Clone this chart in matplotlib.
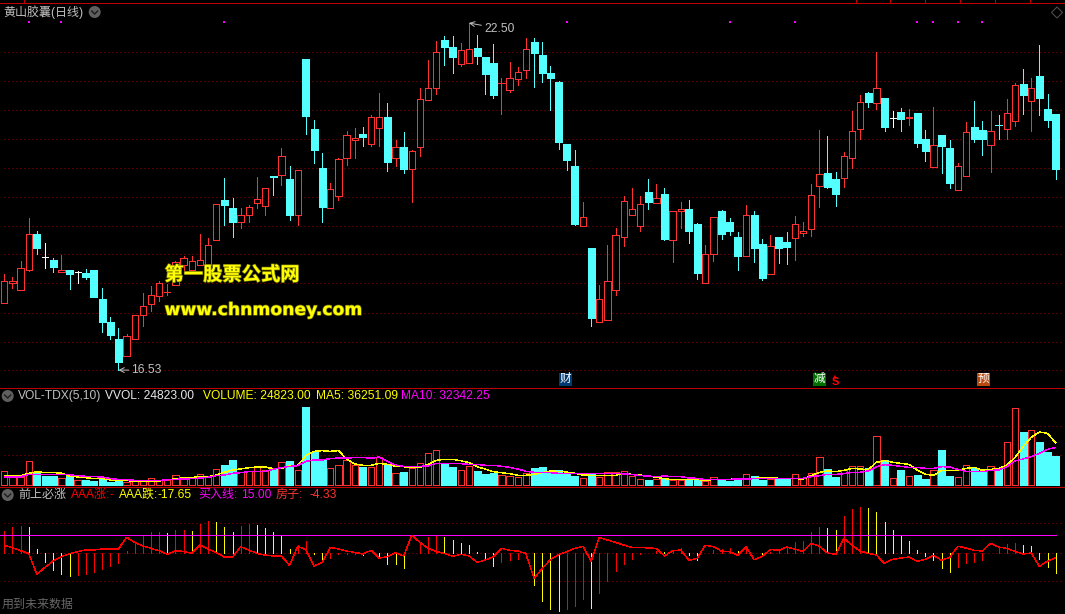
import matplotlib
matplotlib.use("Agg")
import matplotlib.pyplot as plt
import matplotlib.patheffects as pe
from matplotlib.patches import Circle, Rectangle, Polygon

W = 1065
H = 614

opens = [17.69, 18.02, 17.90, 18.26, 18.87, 18.47, 18.42, 18.21, 18.26, 18.21,
         18.20, 18.26, 17.75, 17.36, 17.06, 16.78, 17.07, 17.47, 17.67, 17.81,
         17.87, 17.99, 18.33, 18.26, 18.34, 18.33, 18.76, 19.46, 19.32, 19.08,
         19.19, 19.41, 19.36, 19.86, 19.89, 19.82, 19.19, 21.88, 20.68, 20.01,
         19.31, 19.53, 20.18, 20.48, 20.59, 20.42, 20.70, 20.88, 20.18, 20.37,
         19.99, 20.37, 21.18, 21.39, 22.21, 22.09, 21.80, 21.82, 22.07, 21.92,
         21.81, 21.46, 21.35, 21.54, 21.69, 22.17, 21.95, 21.64, 21.49, 20.42,
         20.04, 19.01, 18.63, 17.35, 17.40, 17.91, 18.82, 19.20, 19.01, 19.59,
         19.41, 19.56, 18.77, 19.26, 19.30, 19.04, 18.02, 18.52, 19.27, 19.08,
         18.82, 18.50, 19.20, 18.70, 18.19, 18.82, 18.73, 18.81, 18.89, 18.95,
         19.70, 19.92, 19.82, 19.84, 20.18, 20.68, 21.30, 21.13, 21.21, 20.87,
         20.97, 20.87, 20.95, 20.51, 20.03, 20.57, 20.35, 19.63, 19.86, 20.71,
         20.66, 20.41, 20.75, 20.68, 20.82, 21.45, 21.16, 21.59, 21.02, 20.93]
closes = [18.06, 18.07, 18.28, 18.87, 18.63, 18.47, 18.30, 18.26, 18.19, 18.21,
          18.13, 17.79, 17.36, 17.13, 16.67, 17.11, 17.47, 17.64, 17.82, 18.02,
          17.88, 18.39, 18.45, 18.40, 18.42, 18.69, 19.39, 19.37, 19.08, 19.19,
          19.33, 19.47, 19.66, 19.85, 20.21, 19.20, 19.97, 20.90, 20.32, 19.34,
          19.64, 20.16, 20.57, 20.53, 20.54, 20.88, 20.88, 20.11, 20.36, 19.99,
          20.29, 21.19, 21.38, 22.00, 22.09, 21.92, 22.03, 22.06, 21.93, 21.62,
          21.26, 21.47, 21.55, 21.65, 22.05, 21.98, 21.64, 21.55, 20.45, 20.14,
          19.04, 19.16, 17.43, 17.75, 18.06, 18.85, 19.43, 19.30, 19.39, 19.42,
          19.49, 18.78, 19.26, 19.30, 18.92, 18.20, 18.52, 19.16, 18.87, 18.92,
          18.49, 19.19, 18.63, 18.11, 18.66, 18.63, 18.65, 19.04, 18.93, 19.55,
          19.91, 19.68, 19.56, 20.21, 20.64, 21.14, 21.14, 21.38, 20.71, 20.87,
          20.85, 20.88, 20.44, 20.30, 20.41, 20.38, 19.75, 20.04, 20.62, 20.51,
          20.51, 20.64, 20.74, 20.95, 21.43, 21.26, 21.39, 21.21, 20.83, 19.99]
highs = [18.18, 18.13, 18.41, 19.14, 18.92, 18.72, 18.46, 18.51, 18.26, 18.23,
         18.27, 18.26, 17.95, 17.44, 17.25, 17.15, 17.47, 17.85, 17.97, 18.06,
         18.01, 18.41, 18.50, 18.49, 18.87, 18.80, 19.39, 19.83, 19.49, 19.31,
         19.37, 19.85, 19.67, 19.86, 20.35, 20.04, 19.97, 21.88, 20.83, 20.26,
         19.75, 20.18, 20.64, 20.69, 20.71, 20.92, 21.30, 21.12, 20.49, 20.63,
         20.32, 21.38, 21.86, 22.19, 22.28, 22.28, 22.16, 22.50, 22.29, 21.92,
         22.14, 21.55, 21.83, 21.74, 22.25, 22.24, 22.17, 21.76, 21.50, 20.42,
         20.32, 19.42, 18.63, 17.99, 18.68, 18.97, 19.52, 19.67, 19.52, 19.82,
         19.73, 19.66, 19.26, 19.42, 19.46, 19.06, 18.68, 19.16, 19.28, 19.15,
         18.91, 19.37, 19.27, 18.78, 18.85, 18.82, 18.91, 19.18, 19.08, 19.73,
         20.66, 20.56, 19.94, 20.28, 20.99, 21.26, 21.31, 22.00, 21.21, 20.99,
         21.04, 21.02, 20.95, 20.66, 21.06, 20.57, 20.49, 20.09, 20.80, 21.16,
         20.81, 20.99, 20.92, 21.19, 21.46, 21.71, 21.55, 22.12, 21.28, 20.93]
lows = [17.69, 17.94, 17.90, 18.23, 18.53, 18.29, 18.21, 18.21, 17.93, 18.03,
        18.10, 17.78, 17.19, 17.06, 16.53, 16.78, 17.06, 17.29, 17.55, 17.72,
        17.83, 17.99, 18.25, 18.26, 18.34, 18.33, 18.76, 19.03, 18.82, 18.98,
        19.08, 19.32, 19.20, 19.54, 19.71, 19.11, 19.03, 20.59, 20.09, 19.08,
        19.31, 19.46, 20.06, 20.18, 20.38, 20.39, 20.38, 19.96, 20.04, 19.92,
        19.42, 20.21, 21.18, 21.28, 21.78, 21.64, 21.76, 21.82, 21.80, 21.28,
        21.21, 20.94, 21.31, 21.43, 21.55, 21.40, 21.49, 21.00, 20.33, 19.97,
        19.03, 19.01, 17.29, 17.35, 17.40, 17.82, 18.66, 19.20, 18.92, 19.30,
        19.41, 18.77, 18.39, 18.97, 18.72, 18.10, 18.02, 18.41, 18.78, 18.85,
        18.25, 18.50, 18.39, 18.08, 18.19, 18.37, 18.36, 18.42, 18.84, 18.84,
        19.34, 19.66, 19.35, 19.68, 20.01, 20.51, 21.06, 21.02, 20.64, 20.71,
        20.64, 20.75, 20.37, 20.13, 20.03, 19.92, 19.66, 19.62, 19.86, 20.45,
        20.23, 19.94, 20.51, 20.51, 20.73, 20.94, 20.64, 20.92, 20.71, 19.82]

volume = [11780, 7180, 7180, 20400, 10340, 7760, 7760, 5750, 8040, 4020,
          4310, 3450, 4880, 2870, 4020, 2300, 3450, 3450, 5750, 4020,
          4600, 8330, 7180, 6030, 9190, 6610, 13500, 17240, 21550, 10920,
          12070, 16090, 12930, 14370, 19540, 20690, 12640, 67230, 28440, 22700,
          14370, 16950, 21260, 17240, 15510, 15230, 23850, 17810, 10060, 11200,
          14370, 18670, 27290, 29880, 18100, 15510, 12640, 16090, 12070, 9480,
          10340, 8330, 7470, 6610, 10340, 14650, 15510, 10340, 12640, 10060,
          7760, 5750, 9190, 6610, 10920, 10920, 11780, 7470, 4880, 4310,
          4880, 6030, 4310, 4020, 4310, 4310, 3730, 6610, 4020, 3450,
          4310, 9190, 7760, 4600, 4880, 5750, 5750, 9190, 5750, 10060,
          23850, 13790, 6900, 12640, 16090, 16090, 14370, 41950, 21260, 5750,
          12930, 7470, 8620, 5170, 12640, 30170, 7760, 6610, 16950, 14650,
          11200, 16090, 13790, 36770, 66080, 45680, 47120, 37060, 28440, 24823]
ma5 = [8040, 8040, 8040, 10060, 11490, 10630, 10630, 10340, 7760, 6900,
       6320, 5460, 5750, 4310, 4020, 3730, 3450, 3450, 3450, 3450,
       4600, 5170, 6320, 6610, 6900, 7180, 8620, 10920, 12930, 13790,
       14940, 15510, 15510, 14080, 14370, 16380, 16660, 25280, 29020, 29590,
       29020, 29590, 22410, 18100, 16950, 16950, 18670, 17810, 16090, 15800,
       14940, 15230, 17810, 21260, 22120, 22120, 20970, 19250, 15800, 13790,
       11490, 10630, 9770, 8330, 8330, 9190, 10630, 12070, 11780, 11200,
       10060, 8620, 8330, 8040, 8330, 8330, 10060, 9190, 8620, 7760,
       6610, 5460, 4600, 4600, 4600, 4600, 4310, 4600, 4600, 4880,
       5460, 5460, 5750, 6610, 6610, 5750, 5750, 5460, 5170, 8040,
       10920, 12070, 11490, 12640, 14370, 13790, 13220, 19540, 20970, 19540,
       18670, 17810, 12930, 9190, 8330, 12350, 12640, 12350, 14370, 15230,
       12640, 13500, 14080, 17240, 23560, 33040, 41080, 45680, 44530, 36251]
ma10 = [6900, 6900, 6900, 9190, 9190, 9190, 9190, 8910, 8910, 8040,
        7470, 7180, 6900, 5460, 4880, 4600, 4020, 4020, 4020, 3730,
        4600, 4880, 5170, 5460, 6030, 6610, 8040, 8620, 10060, 10630,
        11490, 11490, 11780, 13500, 14940, 16090, 16660, 20400, 21550, 21550,
        22700, 23270, 23270, 23560, 23850, 22980, 24130, 20400, 17240, 16090,
        15800, 16090, 16380, 18670, 18670, 18670, 18390, 17810, 17810, 16950,
        16950, 16090, 15230, 13790, 11780, 10920, 10920, 10630, 10060, 10060,
        10060, 9770, 9770, 9770, 9770, 10060, 9480, 9190, 8040, 7760,
        7180, 7760, 7180, 7180, 6030, 5750, 4600, 4880, 4880, 4880,
        5170, 5170, 5460, 5460, 5460, 5750, 5750, 5750, 5750, 7180,
        8040, 9190, 9190, 9770, 10920, 10920, 12070, 15800, 17530, 16950,
        16090, 15230, 15230, 14370, 14370, 15800, 15510, 13500, 11780, 11780,
        11490, 12640, 12930, 15800, 20690, 22410, 24420, 27290, 30740, 32342]

aaa = [18.5, 21.9, 22.7, 21.9, 3.1, -7.7, -14.8, -18.2, -19.6, -18.8,
       -18.2, -16.2, -13.9, -11.1, -8.5, 1.4, 8.8, 14.8, 17.6, 17.6,
       16.5, 19.3, 19.3, 18.5, 24.4, 27.0, 26.1, 21.9, 17.6, 22.7,
       24.4, 23.6, 21.0, 17.6, 14.2, 3.1, 6.5, 9.9, -1.1, -8.0,
       -4.5, -1.4, -0.9, -1.1, -1.7, -0.3, -4.8, -9.4, -9.4, -12.8,
       0, 8.0, 13.6, 14.2, 13.6, 10.8, 8.2, 6.5, 0.9, -6.3,
       -11.1, -8.0, -6.3, -5.1, -4.5, -27.6, -40.9, -48.0, -49.4, -48.0,
       -45.5, -39.2, -46.9, -34.1, -23.9, -15.3, -9.7, -5.1, -1.1, -0.3,
       1.7, 0.6, 2.3, 3.7, -2.0, -6.0, 0, 2.3, 2.8, 4.0,
       1.7, 4.8, 0, -2.0, 0.9, 1.7, 5.7, 9.1, 9.9, 17.6,
       21.9, 21.0, 19.3, 31.3, 37.2, 38.9, 38.1, 34.7, 26.1, 19.3,
       14.2, 9.9, 2.3, -2.8, -6.0, -12.8, -16.2, -11.9, -8.5, -7.7,
       -6.0, 0, 5.1, 7.4, 8.2, 6.5, 5.7, -5.1, -11.9, -17.65]
aaa_kind = ("rrryyyyyyrrrrrrrrrrr" "yrryrryyyrryyyyyrryy" "rrrryryyyyrrrryyyyyy"
            "yrrrryyyyrrryrrrrrrr" "ryrryyrrrryrryrrrrrr" "ryyrrryyyyyyyyyyyrrr"
            "rrrrryyyyy")
house = [6.3, 4.3, 1.7, -0.6, -18.5, -12.5, -7.1, -3.4, -0.9, 0.9,
         2.3, 2.3, 3.1, 3.1, 3.1, 13.1, 8.8, 5.7, 3.7, 1.7,
         -1.4, 1.7, 1.1, -0.6, 6.5, 3.1, 0.3, -3.7, -3.7, 5.1,
         2.3, -0.6, -2.0, -2.8, -2.8, -10.8, 5.4, 2.6, -11.4, -8.2,
         4.5, 3.1, 1.4, 0.3, -1.1, 2.0, -4.5, -3.4, 0, -2.8,
         14.8, 8.8, 3.7, 1.1, -0.6, -3.1, -1.4, -2.6, -8.2, -6.3,
         -3.4, 3.7, 2.0, 1.4, -0.6, -21.9, -13.4, -6.0, -1.7, 0.9,
         3.7, 5.4, -7.1, 13.1, 10.8, 8.8, 6.5, 4.5, 4.5, 4.0,
         3.7, -2.8, 1.7, 2.3, -6.5, -4.8, 6.3, 5.1, 1.4, 0.9,
         -2.3, 5.1, -6.0, -3.1, 2.8, 2.0, 4.8, 3.1, 1.1, 8.0,
         5.7, -0.3, -1.4, 12.2, 6.5, 1.4, -0.6, -2.0, -9.1, -5.7,
         -4.5, -3.7, -7.4, -5.7, -2.3, -6.5, -4.0, 5.4, 4.0, 2.0,
         1.4, 8.0, 4.8, 3.7, 1.1, -1.1, -0.3, -11.6, -7.1, -4.33]
buy_level = 15.0

signal_bars = [3, 7, 27, 69, 89, 97, 112, 114, 117, 120]
signal_price = 22.52
price_grid = [22.00, 21.50, 21.00, 20.50, 20.00, 19.50, 19.00, 18.52, 18.02, 17.52, 17.02, 16.53]
volume_grid = [25570, 50560]
aaa_grid = [-24.4, 0, 25]

RED = "#ff3232"
CYAN = "#54ffff"
GRID = "#a00000"
BORDER = "#c00000"
GRAY = "#c0c0c0"
MAGENTA = "#ff00ff"
YELLOW = "#ffff00"
FONT = ["Liberation Sans", "Noto Sans CJK SC"]
THIN = 0.72  # one pixel at dpi 100
CURVE = 0.3

n = len(closes)
xs = list(range(n))
up = [i for i in xs if closes[i] > opens[i]]
down = [i for i in xs if closes[i] < opens[i]]
flat = [i for i in xs if closes[i] == opens[i]]

fig = plt.figure(figsize=(W / 100, H / 100), dpi=100, facecolor="k")


def pane(top, bottom, ymax, ymin):
    ax = fig.add_axes([0, 1 - bottom / H, 1, (bottom - top) / H])
    ax.set_xlim(-0.5276, 130.14)
    ax.set_ylim(ymin, ymax)
    ax.axis("off")
    return ax


def grid(ax, values):
    ax.hlines(values, 0.0, n - 0.4, color=GRID, lw=0.72, linestyles=(0, (1, 3)), zorder=1)


# K线
ax1 = pane(3, 387, 22.844, 16.239)
grid(ax1, price_grid)
ax1.vlines(up, [lows[i] for i in up], [highs[i] for i in up], color=RED, lw=THIN, antialiased=False, zorder=2)
ax1.vlines(down, [lows[i] for i in down], [highs[i] for i in down], color=CYAN, lw=THIN, antialiased=False, zorder=2)
ax1.vlines(flat, [lows[i] for i in flat], [highs[i] for i in flat], color="w", lw=THIN, antialiased=False, zorder=2)
ax1.hlines([closes[i] for i in flat], [i - 0.38 for i in flat], [i + 0.38 for i in flat], color="w", lw=THIN, antialiased=False, zorder=2)
ax1.bar(up, [closes[i] - opens[i] for i in up], bottom=[opens[i] for i in up], width=0.78,
        facecolor="k", edgecolor=RED, lw=THIN, antialiased=False, zorder=3)
ax1.bar(down, [closes[i] - opens[i] for i in down], bottom=[opens[i] for i in down], width=0.86,
        facecolor=CYAN, edgecolor=CYAN, lw=THIN, antialiased=False, zorder=3)
ax1.plot(signal_bars, [signal_price] * len(signal_bars), "s", color=MAGENTA, ms=1.8, mew=0, antialiased=False, zorder=4)

arrow = dict(arrowstyle="->", color=GRAY, lw=0.7, shrinkA=0, shrinkB=0)
ax1.annotate("16.53", xy=(14, 16.53), xytext=(9.5, 0), textcoords="offset points", color=GRAY, fontsize=8.64,
             family=FONT, va="center", arrowprops=arrow, zorder=5)
ax1.annotate("22.50", xy=(57, 22.50), xytext=(11, -4), textcoords="offset points", color=GRAY, fontsize=8.64,
             family=FONT, va="center", arrowprops=arrow, zorder=5)

# 成交量
ax2 = pane(387, 486, 84476, -862)
grid(ax2, volume_grid)
vol_up = [i for i in xs if closes[i] >= opens[i] and i != 5]
vol_down = [i for i in xs if closes[i] < opens[i] or i == 5]
ax2.bar(vol_up, [volume[i] for i in vol_up], width=0.78, facecolor="k", edgecolor=RED, lw=THIN, antialiased=False, zorder=2)
ax2.bar(vol_down, [volume[i] for i in vol_down], width=0.86, facecolor=CYAN, edgecolor=CYAN, lw=THIN, antialiased=False, zorder=2)
ax2.plot(xs, ma5, color=YELLOW, lw=CURVE, antialiased=False, zorder=3)
ax2.plot(xs, ma10, color=MAGENTA, lw=CURVE, antialiased=False, zorder=4)

# 副图
ax3 = pane(487, 613, 56.0, -51.4)
grid(ax3, aaa_grid)
red_bars = [i for i in xs if aaa_kind[i] == "r"]
yellow_bars = [i for i in xs if aaa_kind[i] == "y"]
ax3.vlines(red_bars, 0, [aaa[i] for i in red_bars], color="#ff0000", lw=THIN, antialiased=False, zorder=2)
ax3.vlines(yellow_bars, 0, [aaa[i] for i in yellow_bars], color=YELLOW, lw=THIN, antialiased=False, zorder=2)
ax3.hlines(buy_level, -0.53, n - 1, color=MAGENTA, lw=THIN, antialiased=False, zorder=3)
ax3.plot(xs, house, color="#ff0000", lw=CURVE, antialiased=False, zorder=4)

# 边框和文字
ov = fig.add_axes([0, 0, 1, 1], facecolor="none")
ov.set_xlim(0, W)
ov.set_ylim(H, 0)
ov.axis("off")

for y in [2, 387, 486, 613]:
    ov.hlines(y + 0.5, 0, W, color=BORDER, lw=THIN, antialiased=False)
for x in [23, 855, 889, 924, 959, 994, 1029]:
    ov.vlines(x + 0.5, 0, 2, color=BORDER, lw=THIN, antialiased=False)


def label(x, y, s, color, size=8.64, **kw):
    ov.text(x, y, s, color=color, fontsize=size, family=FONT, va="center", ha="left", **kw)


def chevron(x, y):
    ov.add_patch(Circle((x, y), 6, fc="#5f5f5f", ec="none"))
    ov.plot([x - 3, x, x + 3], [y - 1, y + 2, y - 1], color="#1c1c1c", lw=1)


def badge(x, s, color):
    ov.add_patch(Rectangle((x, 373.3), 13, 12.5, fc=color, ec="none"))
    ov.text(x + 6.5, 379.3, s, color="w", fontsize=8.4, family=FONT, va="center", ha="center")


label(3, 12, "黄山胶囊(日线)", GRAY)
chevron(94.7, 12)
ov.add_patch(Polygon([(1057, 7), (1062.5, 12.5), (1057, 18), (1051.5, 12.5)], fc="none", ec="#555555", lw=0.7))

badge(559, "财", "#003a70")
badge(813.3, "减", "#007000")
badge(977.3, "预", "#b84a10")
ov.text(835, 382, "S", color="#ff0000", fontsize=8, family=FONT, weight="bold", va="center", ha="center")
ov.text(835, 375.5, "▲", color="#ff0000", fontsize=3.5, family="DejaVu Sans", va="center", ha="center")

chevron(7.7, 396)
label(18, 396, "VOL-TDX(5,10)", GRAY)
label(105, 396, "VVOL: 24823.00", "#e8e8e8")
label(203, 396, "VOLUME: 24823.00", YELLOW)
label(316, 396, "MA5: 36251.09", YELLOW)
label(401, 396, "MA10: 32342.25", MAGENTA)

chevron(7.7, 495)
label(18, 495, "前上必涨", GRAY)
label(71, 495, "AAA涨:", "#ff0000")
label(110, 495, "-", "#ff0000")
label(119, 495, "AAA跌:", YELLOW)
label(157, 495, "-17.65", YELLOW)
label(198, 495, "买入线:", MAGENTA)
label(241, 495, "15.00", MAGENTA)
label(276, 495, "房子:", RED)
label(310, 495, "-4.33", RED)
label(2, 605, "用到未来数据", "#666666")

shadow = [pe.withStroke(linewidth=1.0, foreground="#707000")]
ov.text(164.5, 275, "第一股票公式网", color=YELLOW, fontsize=13.9, family="Noto Sans CJK SC", weight="bold",
        va="center", ha="left", path_effects=shadow)
ov.text(164.5, 310, "www.chnmoney.com", color=YELLOW, fontsize=12.4, family="DejaVu Sans", weight="bold",
        va="center", ha="left", path_effects=shadow)

fig.savefig("out.png", dpi=100, facecolor="k")
